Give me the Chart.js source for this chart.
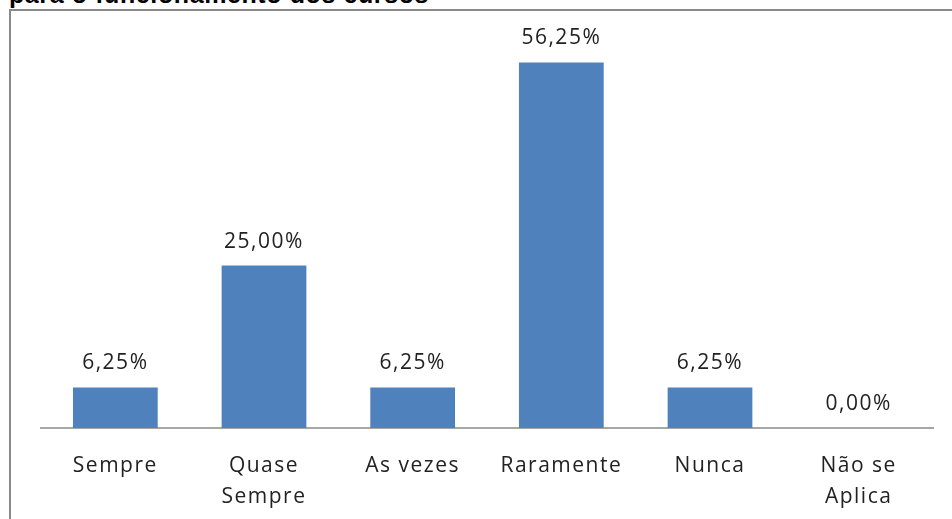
<!DOCTYPE html>
<html>
<head>
<meta charset="utf-8">
<script src="https://cdn.jsdelivr.net/npm/chart.js@4/dist/chart.umd.min.js"></script>
<style>
  html, body { margin: 0; padding: 0; background: #fff; overflow: hidden; }
  #wrap { position: relative; width: 952px; height: 519px; overflow: hidden; }
  #title { position: absolute; left: 9px; top: -20px; font: bold 25px "Liberation Sans", Arial, sans-serif; letter-spacing: 0.6px; color: #000; white-space: nowrap; }
  #frame { position: absolute; left: 9px; top: 9px; width: 960px; height: 530px; border-left: 2px solid #8a8a8a; border-top: 2px solid #8a8a8a; }
  #c { position: absolute; left: 0; top: 0; }
</style>
</head>
<body>
<div id="wrap">
  <div id="title">para o funcionamento dos cursos</div>
  <div id="frame"></div>
  <canvas id="c" width="952" height="535"></canvas>
</div>
<script>
const categories = [['Sempre'], ['Quase', 'Sempre'], ['As vezes'], ['Raramente'], ['Nunca'], ['Não se', 'Aplica']];
const values = [6.25, 25.00, 6.25, 56.25, 6.25, 0.00];

// a bit of letter spacing to mimic the stretched look of the original
const spacing = {
  id: 'spacing',
  beforeDraw(chart) { chart.ctx.letterSpacing = '1.5px'; }
};

const valueLabels = {
  id: 'valueLabels',
  afterDatasetsDraw(chart) {
    const ctx = chart.ctx;
    const meta = chart.getDatasetMeta(0);
    ctx.save();
    ctx.letterSpacing = '1.5px';
    ctx.font = '21px "Open Sans", sans-serif';
    ctx.fillStyle = '#222';
    ctx.textAlign = 'center';
    ctx.textBaseline = 'alphabetic';
    meta.data.forEach((bar, i) => {
      const txt = values[i].toFixed(2).replace('.', ',') + '%';
      ctx.fillText(txt, bar.x, bar.y - 18);
    });
    ctx.restore();
  }
};

new Chart(document.getElementById('c'), {
  type: 'bar',
  data: {
    labels: categories,
    datasets: [{
      data: values,
      backgroundColor: '#4F81BD',
      barPercentage: 0.57,
      categoryPercentage: 1.0
    }]
  },
  options: {
    responsive: false,
    animation: false,
    layout: { padding: { left: 41, right: 19, top: 38, bottom: 0 } },
    plugins: { legend: { display: false }, tooltip: { enabled: false } },
    scales: {
      x: {
        grid: { display: false, drawTicks: false },
        border: { color: '#a6a6a6', width: 2 },
        ticks: { color: '#222', font: { family: '"Open Sans", sans-serif', size: 21, lineHeight: 1.45 }, padding: 23, maxRotation: 0 }
      },
      y: { display: false, min: 0, max: 60 }
    }
  },
  plugins: [spacing, valueLabels]
});
</script>
</body>
</html>
